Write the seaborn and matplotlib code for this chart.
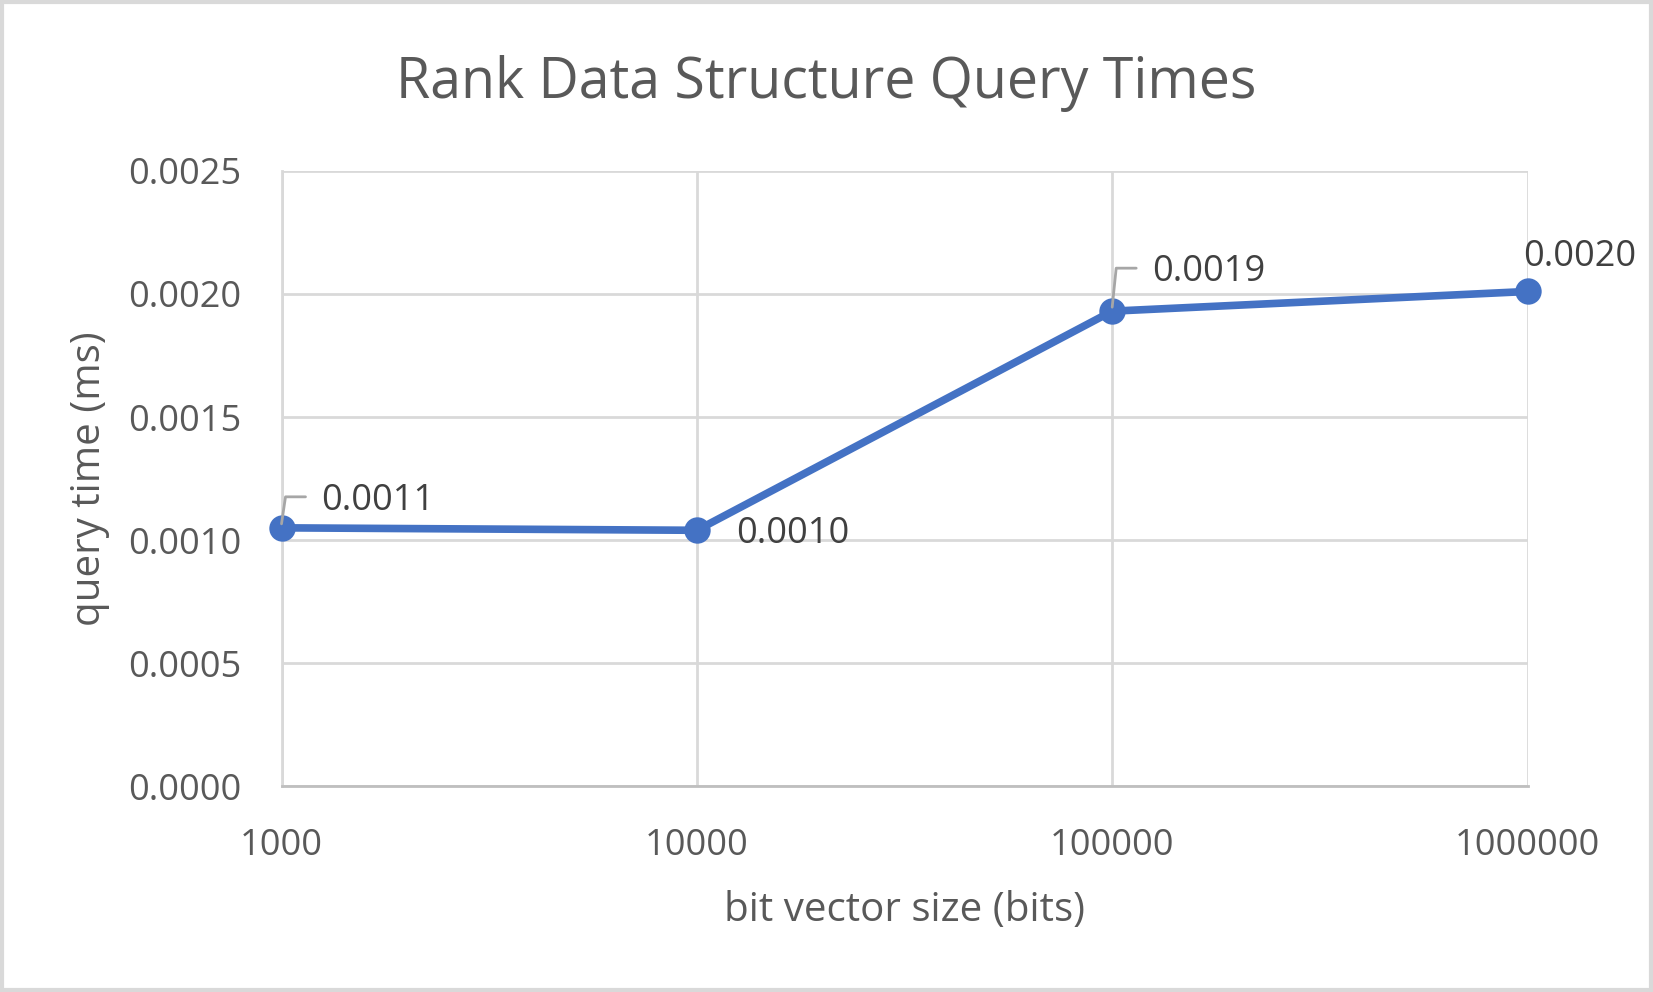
import numpy as np
import matplotlib
matplotlib.use("Agg")
import matplotlib.pyplot as plt
from matplotlib.patches import Rectangle
import matplotlib.transforms as mtransforms
import pandas as pd
import seaborn as sns

# data
sizes = [1000, 10000, 100000, 1000000]
times = [0.00105, 0.00104, 0.00193, 0.00201]
labels = ["0.0011", "0.0010", "0.0019", "0.0020"]
y_ticks = [0.0, 0.0005, 0.0010, 0.0015, 0.0020, 0.0025]

df = pd.DataFrame({"size": sizes, "time": times})

sns.set_theme(style="white")
plt.rcParams['font.family'] = ['Open Sans', 'DejaVu Sans']

BLUE = "#4472C4"
TXT = "#595959"
GRID = "#D9D9D9"

fig = plt.figure(figsize=(16.53, 9.92), dpi=100)
ax = fig.add_axes([0.1703, 0.2073, 0.9241 - 0.1703, 0.8278 - 0.2073])

sns.lineplot(data=df, x="size", y="time", ax=ax, color=BLUE, linewidth=5.5,
             marker="o", markersize=19, markeredgewidth=0, zorder=3)
for ln in ax.lines:
    ln.set_clip_on(False)

ax.set_xscale("log")
ax.set_xlim(1000, 1000000)
ax.set_ylim(0, 0.0025)
ax.set_xticks(sizes)
ax.set_xticklabels([str(s) for s in sizes])
ax.minorticks_off()
ax.set_yticks(y_ticks)
ax.set_yticklabels([f"{v:.4f}" for v in y_ticks])

ax.grid(True, color=GRID, linewidth=2)
ax.set_axisbelow(True)
for s in ["top", "right"]:
    ax.spines[s].set_visible(False)
ax.spines["left"].set_color(GRID)
ax.spines["left"].set_linewidth(2)
ax.spines["bottom"].set_color("#BFBFBF")
ax.spines["bottom"].set_linewidth(2)

ax.tick_params(axis="both", length=0, labelsize=26, labelcolor=TXT)
ax.tick_params(axis="y", pad=29)
ax.tick_params(axis="x", pad=30)

ax.set_xlabel("bit vector size (bits)", fontsize=29, color=TXT, labelpad=19)
ax.set_ylabel("query time (ms)", fontsize=29, color=TXT, labelpad=13)
fig.suptitle("Rank Data Structure Query Times", fontsize=40, color=TXT, y=0.945)

# data labels with leader lines (offsets in pixels)
def off(dx, dy):
    return mtransforms.offset_copy(ax.transData, fig=fig, x=dx, y=dy, units="dots")

lab_cfg = [
    (40, 27, "left", True),
    (39, -4, "left", False),
    (40, 39, "left", True),
    (52, 34, "center", False),
]
for x, y, txt, (dx, dy, ha, leader) in zip(sizes, times, labels, lab_cfg):
    ax.text(x, y, txt, transform=off(dx, dy), ha=ha, va="center",
            fontsize=26, color="#404040", zorder=5)
    if leader:
        pts = [(0, 4), (4, dy + 4), (24, dy + 4)]
        disp = ax.transData.transform((x, y))
        line_px = np.array([[disp[0] + p[0], disp[1] + p[1]] for p in pts])
        line_data = ax.transData.inverted().transform(line_px)
        ax.plot(line_data[:, 0], line_data[:, 1], color="#A6A6A6", linewidth=2,
                zorder=4, clip_on=False)

fig.patches.append(Rectangle((0.001, 0.002), 0.998, 0.996, transform=fig.transFigure,
                             fill=False, edgecolor="#D9D9D9", linewidth=3))

fig.savefig("out.png", dpi=100)
